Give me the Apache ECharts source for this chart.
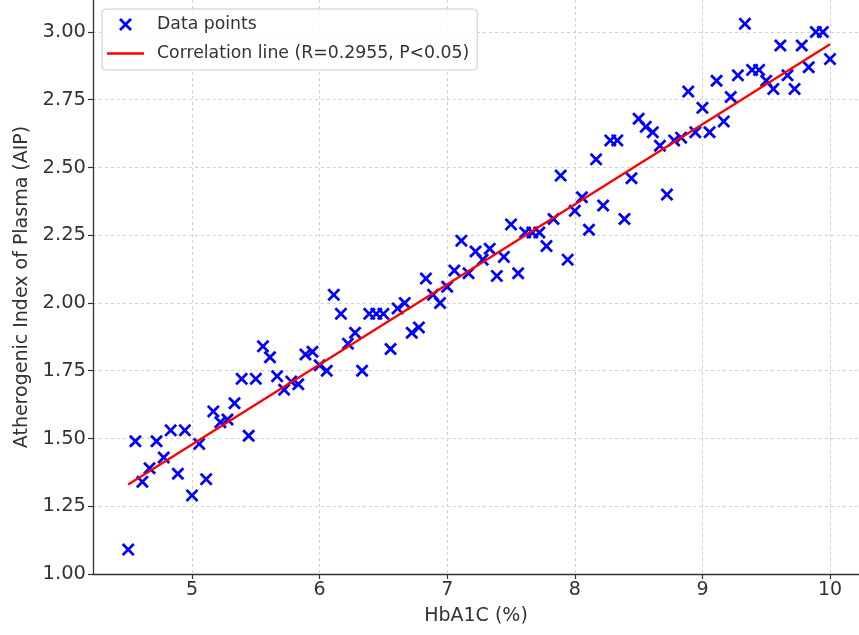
<!DOCTYPE html>
<html>
<head>
<meta charset="utf-8">
<script src="https://cdn.jsdelivr.net/npm/echarts@6/dist/echarts.min.js"></script>
<style>
  html, body { margin: 0; padding: 0; background: #fff; }
  #chart { width: 859px; height: 635px; }
</style>
</head>
<body>
<div id="chart"></div>
<script>
// HbA1C values (x)
var hba1c = [
  4.5, 4.556, 4.611, 4.667, 4.722, 4.778, 4.833, 4.889, 4.944, 5.0,
  5.056, 5.111, 5.167, 5.222, 5.278, 5.333, 5.389, 5.444, 5.5,
  5.556, 5.611, 5.667, 5.722, 5.778, 5.833, 5.889, 5.944, 6.0,
  6.056, 6.111, 6.167, 6.222, 6.278, 6.333, 6.389, 6.444, 6.5,
  6.556, 6.611, 6.667, 6.722, 6.778, 6.833, 6.889, 6.944, 7.0,
  7.056, 7.111, 7.167, 7.222, 7.278, 7.333, 7.389, 7.444, 7.5,
  7.556, 7.611, 7.667, 7.722, 7.778, 7.833, 7.889, 7.944, 8.0,
  8.056, 8.111, 8.167, 8.222, 8.278, 8.333, 8.389, 8.444, 8.5,
  8.556, 8.611, 8.667, 8.722, 8.778, 8.833, 8.889, 8.944, 9.0,
  9.056, 9.111, 9.167, 9.222, 9.278, 9.333, 9.389, 9.444, 9.5,
  9.556, 9.611, 9.667, 9.722, 9.778, 9.833, 9.889, 9.944, 10.0
];
// AIP values (y)
var aip = [
  1.09, 1.49, 1.34, 1.39, 1.49, 1.43, 1.53, 1.37, 1.53, 1.29,
  1.48, 1.35, 1.60, 1.56, 1.57, 1.63, 1.72, 1.51, 1.72,
  1.84, 1.80, 1.73, 1.68, 1.71, 1.70, 1.81, 1.82, 1.77,
  1.75, 2.03, 1.96, 1.85, 1.89, 1.75, 1.96, 1.96, 1.96,
  1.83, 1.98, 2.00, 1.89, 1.91, 2.09, 2.03, 2.00, 2.06,
  2.12, 2.23, 2.11, 2.19, 2.16, 2.20, 2.10, 2.17, 2.29,
  2.11, 2.26, 2.26, 2.26, 2.21, 2.31, 2.47, 2.16, 2.34,
  2.39, 2.27, 2.53, 2.36, 2.60, 2.60, 2.31, 2.46, 2.68,
  2.65, 2.63, 2.58, 2.40, 2.60, 2.61, 2.78, 2.63, 2.72,
  2.63, 2.82, 2.67, 2.76, 2.84, 3.03, 2.86, 2.86, 2.82,
  2.79, 2.95, 2.84, 2.79, 2.95, 2.87, 3.00, 3.00, 2.90
];
// regression line end points
var lineX = [4.5, 10];
var lineY = [1.33, 2.955];

var xTicks = [5, 6, 7, 8, 9, 10];
var yTicks = [1.0, 1.25, 1.5, 1.75, 2.0, 2.25, 2.5, 2.75, 3.0];

var scatterName = 'Data points';
var lineName = 'Correlation line (R=0.2955, P<0.05)';

var xMarker = 'path://M0,1.5L1.5,0L5,3.5L8.5,0L10,1.5L6.5,5L10,8.5L8.5,10L5,6.5L1.5,10L0,8.5L3.5,5Z';

var points = hba1c.map(function (x, i) { return [x, aip[i]]; });
var linePts = lineX.map(function (x, i) { return [x, lineY[i]]; });

var font = 'DejaVu Sans';
var chart = echarts.init(document.getElementById('chart'));

chart.setOption({
  animation: false,
  backgroundColor: '#fff',
  textStyle: { fontFamily: font },
  grid: { left: 93, right: 0, top: 0, bottom: 61 },
  legend: {
    orient: 'vertical',
    left: 102,
    top: 9,
    padding: [7, 8, 8, 5],
    itemGap: 12,
    itemWidth: 37,
    itemHeight: 13,
    backgroundColor: 'rgba(255,255,255,0.85)',
    borderColor: '#cccccc',
    borderWidth: 1,
    borderRadius: 4,
    z: 10,
    textStyle: {
      fontFamily: font,
      fontSize: 17.3,
      color: '#333',
      padding: [0, 0, 0, 8]
    },
    data: [
      { name: scatterName, icon: xMarker },
      { name: lineName, icon: 'path://M0,0H37V2.4H0Z' }
    ]
  },
  xAxis: {
    type: 'value',
    min: 4.224,
    max: 10.227,
    name: 'HbA1C (%)',
    nameLocation: 'middle',
    nameGap: 33,
    nameTextStyle: { fontFamily: font, fontSize: 19, color: '#333' },
    axisLine: { onZero: false, lineStyle: { color: '#333', width: 1.3 } },
    axisTick: { length: 5, customValues: xTicks, lineStyle: { color: '#333', width: 1.2 } },
    axisLabel: {
      customValues: xTicks,
      fontFamily: font,
      fontSize: 19,
      color: '#333',
      margin: 7
    },
    splitLine: { show: true, lineStyle: { color: '#cfcfcf', type: [3, 3], width: 1 } }
  },
  yAxis: {
    type: 'value',
    min: 1,
    max: 3.118,
    name: 'Atherogenic Index of Plasma (AIP)',
    nameLocation: 'middle',
    nameGap: 60,
    nameTextStyle: { fontFamily: font, fontSize: 19, color: '#333' },
    axisLine: { show: true, onZero: false, lineStyle: { color: '#333', width: 1.3 } },
    axisTick: { show: true, length: 5, customValues: yTicks, lineStyle: { color: '#333', width: 1.2 } },
    axisLabel: {
      customValues: yTicks,
      fontFamily: font,
      fontSize: 19.5,
      color: '#333',
      margin: 7,
      formatter: function (v) { return v.toFixed(2); }
    },
    splitLine: { show: true, lineStyle: { color: '#cfcfcf', type: [3, 3], width: 1 } }
  },
  series: [
    {
      name: scatterName,
      type: 'scatter',
      data: points,
      symbol: xMarker,
      symbolSize: 13,
      itemStyle: { color: '#0000ff', opacity: 1 },
      z: 2
    },
    {
      name: lineName,
      type: 'line',
      data: linePts,
      showSymbol: false,
      symbol: 'none',
      color: '#ff0000',
      itemStyle: { color: '#ff0000' },
      lineStyle: { color: '#ff0000', width: 2.3 },
      z: 3
    }
  ]
});
</script>
</body>
</html>
